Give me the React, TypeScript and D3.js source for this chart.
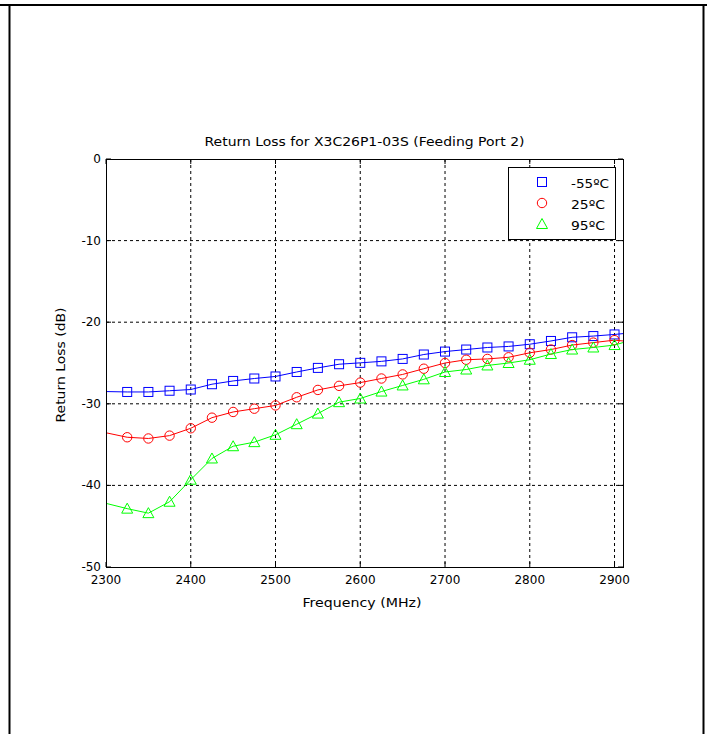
import React from "react";
import * as d3 from "d3";

const FREQS = [2300, 2325, 2350, 2375, 2400, 2425, 2450, 2475, 2500, 2525, 2550, 2575, 2600, 2625, 2650, 2675, 2700, 2725, 2750, 2775, 2800, 2825, 2850, 2875, 2900, 2910];
const MARKED_FREQS = [2325, 2350, 2375, 2400, 2425, 2450, 2475, 2500, 2525, 2550, 2575, 2600, 2625, 2650, 2675, 2700, 2725, 2750, 2775, 2800, 2825, 2850, 2875, 2900];

const RL_MINUS55 = [-28.5, -28.55, -28.55, -28.4, -28.25, -27.6, -27.2, -26.9, -26.65, -26.1, -25.6, -25.15, -24.98, -24.8, -24.5, -23.96, -23.6, -23.35, -23.1, -22.97, -22.7, -22.3, -21.85, -21.7, -21.5, -21.4];
const RL_25 = [-33.55, -34.1, -34.25, -33.9, -33.0, -31.7, -31.0, -30.6, -30.2, -29.2, -28.3, -27.8, -27.4, -26.9, -26.4, -25.7, -25.0, -24.6, -24.5, -24.3, -23.75, -23.35, -22.8, -22.5, -22.2, -22.3];
const RL_95 = [-42.2, -42.85, -43.4, -42.0, -39.3, -36.7, -35.2, -34.7, -33.8, -32.5, -31.2, -29.8, -29.35, -28.5, -27.75, -27.0, -26.1, -25.8, -25.3, -25.0, -24.6, -23.9, -23.35, -23.1, -22.8, -22.5];

const X_TICKS = [2300, 2400, 2500, 2600, 2700, 2800, 2900];
const Y_TICKS = [0, -10, -20, -30, -40, -50];
const SERIES_NAMES = ["-55ºC", "25ºC", "95ºC"];
const TITLE = "Return Loss for X3C26P1-03S (Feeding Port 2)";
const X_LABEL = "Frequency (MHz)";
const Y_LABEL = "Return Loss (dB)";

const FONT = "'DejaVu Sans', 'Liberation Sans', Arial, sans-serif";

const seriesDefs = [
  { name: SERIES_NAMES[0], values: RL_MINUS55, color: "#0000ff", marker: "square", labelWidth: 38 },
  { name: SERIES_NAMES[1], values: RL_25, color: "#ff0000", marker: "circle", labelWidth: 34 },
  { name: SERIES_NAMES[2], values: RL_95, color: "#00ff00", marker: "triangle", labelWidth: 34 },
];

function Marker({ kind, x, y, color }: { kind: string; x: number; y: number; color: string }) {
  if (kind === "square") {
    return <rect x={x - 4.5} y={y - 4.5} width={9} height={9} fill="none" stroke={color} strokeWidth={1} />;
  }
  if (kind === "circle") {
    return <circle cx={x} cy={y} r={4.7} fill="none" stroke={color} strokeWidth={1} />;
  }
  const pts = [
    [x, y - 5.5],
    [x - 5.5, y + 4.5],
    [x + 5.5, y + 4.5],
  ];
  return <polygon points={pts.map((p) => p.join(",")).join(" ")} fill="none" stroke={color} strokeWidth={1} />;
}

export default function App() {
  const W = 707;
  const H = 734;
  const left = 106;
  const right = 623;
  const top = 159;
  const bottom = 567;

  const x = d3.scaleLinear().domain([2300, 2910]).range([left, right]);
  const y = d3.scaleLinear().domain([-50, 0]).range([bottom, top]);

  const line = d3
    .line<[number, number]>()
    .x((d) => x(d[0]))
    .y((d) => y(d[1]));

  const tickLen = 5;

  return (
    <svg
      width={W}
      height={H}
      style={{ position: "absolute", left: 0, top: 0, background: "#fff" }}
      fontFamily={FONT}
    >
      <rect x={0} y={0} width={W} height={H} fill="#fff" />
      {/* page frame */}
      <line x1={0} y1={5} x2={W} y2={5} stroke="#000" strokeWidth={2} />
      <line x1={9.5} y1={5} x2={9.5} y2={H} stroke="#000" strokeWidth={2} />
      <line x1={703.5} y1={5} x2={703.5} y2={H} stroke="#000" strokeWidth={2} />

      {/* plot background */}
      <rect x={left} y={top} width={right - left} height={bottom - top} fill="#fff" />

      {/* grid */}
      {X_TICKS.filter((t) => t !== 2300).map((t) => (
        <line key={"gx" + t} x1={x(t)} x2={x(t)} y1={top} y2={bottom} stroke="#000" strokeWidth={1} strokeDasharray="3,3" />
      ))}
      {Y_TICKS.filter((t) => t !== 0 && t !== -50).map((t) => (
        <line key={"gy" + t} x1={left} x2={right} y1={y(t)} y2={y(t)} stroke="#000" strokeWidth={1} strokeDasharray="3,3" />
      ))}

      {/* ticks */}
      {X_TICKS.map((t) => (
        <g key={"tx" + t}>
          <line x1={x(t)} x2={x(t)} y1={bottom} y2={bottom - tickLen} stroke="#000" />
          <line x1={x(t)} x2={x(t)} y1={top} y2={top + tickLen} stroke="#000" />
        </g>
      ))}
      {Y_TICKS.map((t) => (
        <g key={"ty" + t}>
          <line x1={left} x2={left + tickLen} y1={y(t)} y2={y(t)} stroke="#000" />
          <line x1={right} x2={right - tickLen} y1={y(t)} y2={y(t)} stroke="#000" />
        </g>
      ))}

      {/* series */}
      {seriesDefs.map((s) => {
        const pts: [number, number][] = FREQS.map((f, i) => [f, s.values[i]]);
        return (
          <g key={s.name}>
            <path d={line(pts) || ""} fill="none" stroke={s.color} strokeWidth={1} />
            {pts
              .filter((p) => MARKED_FREQS.includes(p[0]))
              .map((p) => (
                <Marker key={p[0]} kind={s.marker} x={x(p[0])} y={y(p[1])} color={s.color} />
              ))}
          </g>
        );
      })}

      {/* axes box */}
      <rect x={left + 0.5} y={top + 0.5} width={right - left} height={bottom - top} fill="none" stroke="#000" strokeWidth={1} />

      {/* tick labels */}
      {X_TICKS.map((t) => (
        <text key={"lx" + t} x={x(t)} y={bottom + 17} textAnchor="middle" fontSize={12} fill="#000">
          {t}
        </text>
      ))}
      {Y_TICKS.map((t) => (
        <text key={"ly" + t} x={left - 5} y={y(t) + 4} textAnchor="end" fontSize={12} fill="#000">
          {t}
        </text>
      ))}

      {/* title & labels */}
      <text x={(left + right) / 2} y={146} textAnchor="middle" fontSize={12} fill="#000" textLength={320} lengthAdjust="spacingAndGlyphs">
        {TITLE}
      </text>
      <text x={362} y={607} textAnchor="middle" fontSize={12} fill="#000" textLength={119} lengthAdjust="spacingAndGlyphs">
        {X_LABEL}
      </text>
      <text transform={`translate(65, 365) rotate(-90)`} textAnchor="middle" fontSize={12} fill="#000" textLength={115} lengthAdjust="spacingAndGlyphs">
        {Y_LABEL}
      </text>

      {/* legend */}
      <rect x={508.5} y={167.5} width={107} height={72} fill="#fff" stroke="#000" strokeWidth={1} />
      {seriesDefs.map((s, i) => (
        <g key={"lg" + s.name}>
          <Marker kind={s.marker} x={542} y={182 + i * 21} color={s.color} />
          <text x={571} y={188 + i * 21} fontSize={12} fill="#000" textLength={s.labelWidth} lengthAdjust="spacingAndGlyphs">
            {s.name}
          </text>
        </g>
      ))}
    </svg>
  );
}
